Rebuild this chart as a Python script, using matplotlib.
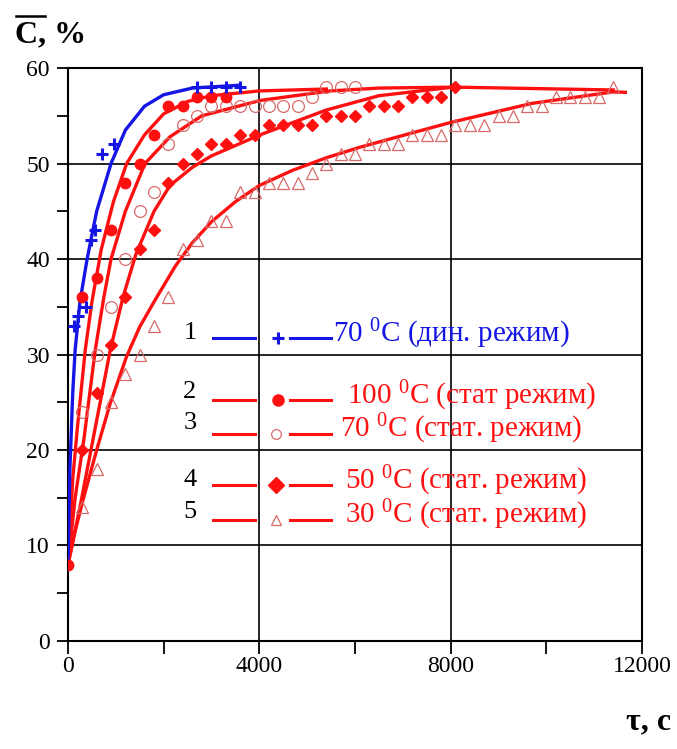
import numpy as np
import matplotlib.pyplot as plt
from matplotlib.lines import Line2D

plt.rcParams['font.family'] = ['Liberation Serif', 'DejaVu Serif']
plt.rcParams['mathtext.fontset'] = 'custom'
plt.rcParams['mathtext.rm'] = 'Liberation Serif'

RED = "#ff1010"
BLUE = "#1515e6"
PALE = "#d86a6a"

# расчетные кривые (время, с ; концентрация, %)
t1 = [0, 40, 100, 150, 250, 400, 600, 900, 1200, 1600, 2000, 2600, 3600]
c1 = [8, 18, 26, 30.5, 35.5, 40, 45, 50, 53.5, 56, 57.2, 57.9, 58.2]

t2 = [0, 100, 200, 362, 500, 696, 950, 1227, 1600, 2000, 2500, 3000, 4000, 5400]
c2 = [8, 17, 22.5, 30.5, 35.5, 41, 46, 50, 53, 55.2, 56.5, 57.1, 57.6, 57.8]

t3 = [0, 150, 330, 571, 750, 900, 1200, 1610, 2132, 2800, 4014, 5478, 6500, 8100]
c3 = [8, 15, 21, 30.5, 36, 40, 45, 50, 52.8, 55, 56.6, 57.6, 57.9, 58.0]

t4 = [0, 250, 500, 885, 1150, 1420, 1800, 2132, 2600, 3000, 4014, 5400, 6500, 8050, 11400]
c4 = [8, 14, 20.5, 30.5, 36, 40.5, 45, 47.7, 49.6, 50.8, 53, 55.6, 57.1, 58, 57.7]

t5 = [0, 150, 300, 600, 878, 1226, 1500, 1820, 2250, 2600, 3000, 3500, 4000, 4700,
      5400, 6100, 6900, 8000, 9700, 11400, 11650]
c5 = [8, 11.5, 14.5, 20, 24.8, 29.8, 32.9, 35.7, 39.3, 41.7, 43.9, 46.0, 47.7, 49.3,
      50.6, 51.7, 52.8, 54.3, 56.3, 57.5, 57.45]

# экспериментальные точки
e1_t = [120, 210, 375, 490, 570, 710, 955, 2700, 3000, 3300, 3600]
e1_c = [33, 34, 35, 42, 43, 51, 52, 58, 58, 58, 58]

e2_t = [0, 300, 600, 900, 1200, 1500, 1800, 2100, 2400, 2700, 3000, 3300]
e2_c = [8, 36, 38, 43, 48, 50, 53, 56, 56, 57, 57, 57]

e3_t = [300, 600, 900, 1200, 1500, 1800, 2100, 2400, 2700, 3000, 3300, 3600,
        3900, 4200, 4500, 4800, 5100, 5400, 5700, 6000]
e3_c = [24, 30, 35, 40, 45, 47, 52, 54, 55, 56, 56, 56, 56, 56, 56, 56, 57, 58, 58, 58]

e4_t = [300, 600, 900, 1200, 1500, 1800, 2100, 2400, 2700, 3000, 3300, 3600, 3900,
        4200, 4500, 4800, 5100, 5400, 5700, 6000, 6300, 6600, 6900, 7200, 7500, 7800, 8100]
e4_c = [20, 26, 31, 36, 41, 43, 48, 50, 51, 52, 52, 53, 53, 54, 54, 54, 54, 55, 55, 55,
        56, 56, 56, 57, 57, 57, 58]

e5_t = [300, 600, 900, 1200, 1500, 1800, 2100, 2400, 2700, 3000, 3300, 3600, 3900, 4200,
        4500, 4800, 5100, 5400, 5700, 6000, 6300, 6600, 6900, 7200, 7500, 7800, 8100, 8400,
        8700, 9000, 9300, 9600, 9900, 10200, 10500, 10800, 11100, 11400]
e5_c = [14, 18, 25, 28, 30, 33, 36, 41, 42, 44, 44, 47, 47, 48, 48, 48, 49, 50, 51, 51, 52,
        52, 52, 53, 53, 53, 54, 54, 54, 55, 55, 56, 56, 57, 57, 57, 57, 58]

fig = plt.figure(figsize=(6.77, 7.49), dpi=100)
ax = fig.add_axes([0.1004, 0.1442, 0.848, 0.765])

lw = 2.4
ax.plot(t5, c5, color=RED, lw=lw, zorder=3)
ax.plot(t4, c4, color=RED, lw=lw, zorder=3)
ax.plot(t3, c3, color=RED, lw=lw, zorder=3)
ax.plot(t2, c2, color=RED, lw=lw, zorder=3)
ax.plot(t1, c1, color=BLUE, lw=lw, zorder=4)

ax.plot(e5_t, e5_c, ls='none', marker='^', ms=8, mfc='none', mec=PALE, mew=0.9, zorder=5)
ax.plot(e3_t, e3_c, ls='none', marker='o', ms=8.5, mfc='none', mec=PALE, mew=0.9, zorder=5)
ax.plot(e4_t, e4_c, ls='none', marker='D', ms=6.5, color=RED, zorder=5)
ax.plot(e2_t, e2_c, ls='none', marker='o', ms=7.5, color=RED, zorder=5)
ax.plot(e1_t, e1_c, ls='none', marker='+', ms=9, mew=2.2, color=BLUE, zorder=6)

ax.set_xlim(0, 12000)
ax.set_ylim(0, 60)
ax.set_xticks([0, 4000, 8000, 12000])
ax.set_xticks([2000, 6000, 10000], minor=True)
ax.set_yticks(range(0, 61, 10))
ax.set_yticks(range(5, 60, 10), minor=True)
ax.tick_params(axis='both', which='both', direction='out', width=1.3, colors='black',
               labelsize=17)
ax.tick_params(axis='x', which='both', length=9, pad=2)
ax.tick_params(axis='y', which='both', length=8, pad=5)
ax.grid(True, which='major', color='black', lw=1.2)
for s in ax.spines.values():
    s.set_linewidth(1.5)

# подписи осей
fig.text(0.022, 0.953, "C, %", fontsize=23, fontweight='bold', ha='left', va='center')
fig.add_artist(Line2D([0.024, 0.066], [0.979, 0.979], color='black', lw=1.8))
fig.text(0.992, 0.036, "τ, с", fontsize=23, fontweight='bold', ha='right', va='center')

# легенда
rows = [
    ("1", 31.7, 32.3, BLUE, '+', 5540, "70 $\\mathregular{^0}$C (дин. режим)"),
    ("2", 25.2, 26.1, RED, 'o', 5830, "100 $\\mathregular{^0}$C (стат режим)"),
    ("3", 21.7, 22.8, RED, 'o_open', 5690, "70 $\\mathregular{^0}$C (стат. режим)"),
    ("4", 16.3, 16.9, RED, 'D', 5790, "50 $\\mathregular{^0}$C (стат. режим)"),
    ("5", 12.7, 13.5, RED, '^', 5790, "30 $\\mathregular{^0}$C (стат. режим)"),
]
for num, y, ynum, col, mk, xt, label in rows:
    ax.text(2550, ynum, num, fontsize=19, ha='center', va='center', color='black')
    ax.plot([3030, 3900], [y, y], color=col, lw=2.2, zorder=6)
    ax.plot([4650, 5500], [y, y], color=col, lw=2.2, zorder=6)
    if mk == '+':
        ax.plot(4400, y, marker='+', ms=8, mew=2.2, color=col, zorder=6)
    elif mk == 'o_open':
        ax.plot(4350, y, marker='o', ms=7, mfc='none', mec=PALE, mew=0.9, zorder=6)
    elif mk == '^':
        ax.plot(4350, y, marker='^', ms=7, mfc='none', mec=PALE, mew=0.9, zorder=6)
    elif mk == 'D':
        ax.plot(4350, y, marker='D', ms=8, color=col, zorder=6)
    else:
        ax.plot(4400, y, marker='o', ms=8, color=col, zorder=6)
    ax.text(xt, y + 0.5, label, fontsize=21, ha='left', va='center', color=col)

fig.savefig("out.png", dpi=100)
